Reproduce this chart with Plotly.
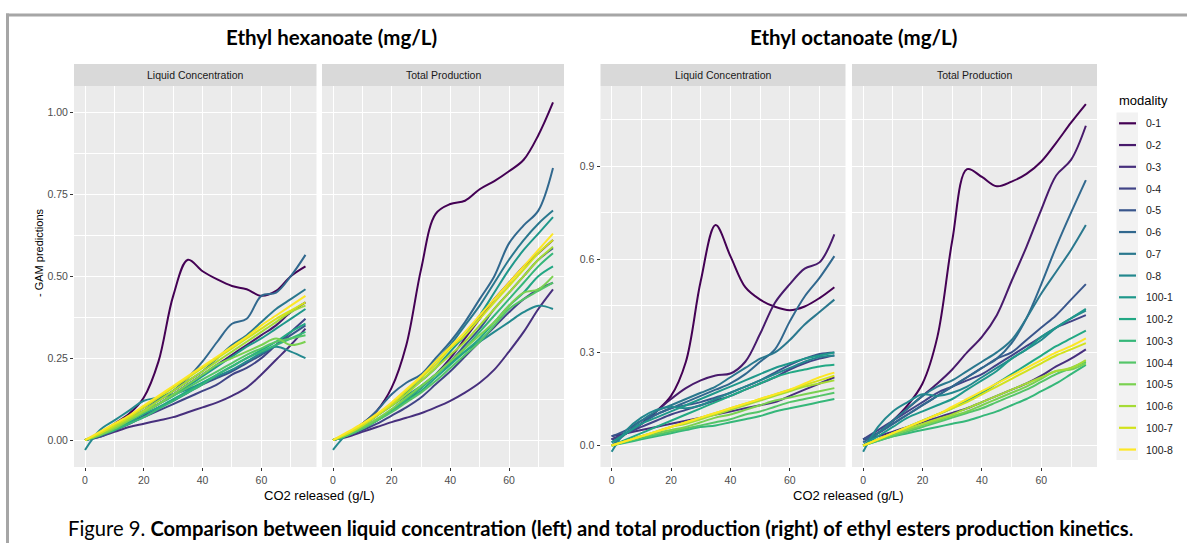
import plotly.graph_objects as go

# ---- data -------------------------------------------------------------
CO2 = [0, 5, 10, 15, 20, 25, 30, 35, 40, 45, 50, 55, 60, 65, 70, 75]

MODALITIES = ["0-1", "0-2", "0-3", "0-4", "0-5", "0-6", "0-7", "0-8",
              "100-1", "100-2", "100-3", "100-4", "100-5", "100-6", "100-7", "100-8"]

COLORS = ["#440154", "#481A6C", "#472F7D", "#414487", "#39568C", "#31688E",
          "#2A788E", "#23888E", "#1F988B", "#22A884", "#35B779", "#54C568",
          "#7AD151", "#A5DB36", "#D2E21B", "#FDE725"]

X_TICKS = [0, 20, 40, 60]
Y_TICKS_HEX = [0.00, 0.25, 0.50, 0.75, 1.00]
Y_LABELS_HEX = ["0.00", "0.25", "0.50", "0.75", "1.00"]
Y_TICKS_OCT = [0.0, 0.3, 0.6, 0.9]
Y_LABELS_OCT = ["0.0", "0.3", "0.6", "0.9"]

# Ethyl hexanoate, liquid concentration (one row per modality)
HEX_LIQUID = [
    [0.00, 0.02, 0.05, 0.08, 0.13, 0.24, 0.44, 0.55, 0.515, 0.49, 0.47, 0.46, 0.44, 0.455, 0.50, 0.53],
    [0.00, 0.015, 0.035, 0.06, 0.085, 0.11, 0.14, 0.17, 0.20, 0.23, 0.26, 0.29, 0.32, 0.35, 0.39, 0.42],
    [0.00, 0.01, 0.025, 0.04, 0.05, 0.06, 0.07, 0.085, 0.10, 0.115, 0.135, 0.16, 0.20, 0.245, 0.29, 0.34],
    [0.00, 0.015, 0.03, 0.05, 0.07, 0.09, 0.11, 0.13, 0.15, 0.17, 0.20, 0.22, 0.25, 0.29, 0.33, 0.37],
    [0.00, 0.01, 0.03, 0.05, 0.075, 0.10, 0.12, 0.145, 0.17, 0.19, 0.21, 0.235, 0.26, 0.29, 0.32, 0.35],
    [0.00, 0.02, 0.04, 0.065, 0.09, 0.12, 0.15, 0.19, 0.24, 0.30, 0.355, 0.37, 0.44, 0.45, 0.50, 0.565],
    [0.00, 0.02, 0.045, 0.07, 0.10, 0.125, 0.15, 0.18, 0.21, 0.25, 0.29, 0.32, 0.36, 0.40, 0.43, 0.46],
    [-0.03, 0.03, 0.06, 0.09, 0.12, 0.13, 0.14, 0.155, 0.175, 0.195, 0.215, 0.24, 0.265, 0.285, 0.27, 0.25],
    [0.00, 0.015, 0.035, 0.06, 0.085, 0.11, 0.135, 0.165, 0.195, 0.225, 0.255, 0.285, 0.31, 0.34, 0.37, 0.40],
    [0.00, 0.015, 0.035, 0.055, 0.08, 0.10, 0.125, 0.15, 0.175, 0.20, 0.225, 0.25, 0.275, 0.30, 0.33, 0.355],
    [0.00, 0.015, 0.03, 0.05, 0.07, 0.095, 0.12, 0.145, 0.17, 0.20, 0.225, 0.25, 0.27, 0.29, 0.31, 0.33],
    [0.00, 0.02, 0.04, 0.06, 0.085, 0.11, 0.135, 0.16, 0.185, 0.21, 0.235, 0.26, 0.28, 0.30, 0.31, 0.32],
    [0.00, 0.015, 0.035, 0.06, 0.085, 0.11, 0.14, 0.17, 0.20, 0.23, 0.25, 0.27, 0.29, 0.31, 0.29, 0.30],
    [0.00, 0.02, 0.04, 0.065, 0.09, 0.12, 0.15, 0.18, 0.21, 0.24, 0.27, 0.30, 0.33, 0.36, 0.39, 0.41],
    [0.00, 0.02, 0.045, 0.07, 0.10, 0.13, 0.16, 0.19, 0.22, 0.25, 0.28, 0.31, 0.34, 0.37, 0.395, 0.42],
    [0.00, 0.025, 0.05, 0.075, 0.105, 0.135, 0.165, 0.195, 0.225, 0.255, 0.285, 0.315, 0.35, 0.38, 0.41, 0.44],
]

# Ethyl hexanoate, total production
HEX_TOTAL = [
    [0.00, 0.02, 0.05, 0.09, 0.16, 0.29, 0.52, 0.69, 0.72, 0.73, 0.765, 0.79, 0.82, 0.855, 0.93, 1.03],
    [0.00, 0.015, 0.035, 0.06, 0.09, 0.12, 0.16, 0.20, 0.25, 0.31, 0.37, 0.43, 0.48, 0.53, 0.57, 0.61],
    [0.00, 0.01, 0.025, 0.04, 0.055, 0.068, 0.082, 0.10, 0.12, 0.145, 0.175, 0.215, 0.27, 0.33, 0.40, 0.46],
    [0.00, 0.015, 0.03, 0.05, 0.075, 0.10, 0.13, 0.17, 0.21, 0.255, 0.30, 0.345, 0.39, 0.43, 0.46, 0.48],
    [0.00, 0.015, 0.035, 0.06, 0.09, 0.12, 0.16, 0.20, 0.24, 0.29, 0.34, 0.40, 0.45, 0.50, 0.55, 0.585],
    [0.00, 0.02, 0.05, 0.09, 0.14, 0.175, 0.20, 0.25, 0.30, 0.36, 0.43, 0.50, 0.60, 0.655, 0.70, 0.83],
    [0.00, 0.02, 0.045, 0.075, 0.11, 0.15, 0.19, 0.24, 0.29, 0.35, 0.41, 0.48, 0.55, 0.61, 0.66, 0.70],
    [-0.03, 0.02, 0.045, 0.075, 0.105, 0.135, 0.165, 0.20, 0.235, 0.27, 0.30, 0.33, 0.36, 0.39, 0.41, 0.40],
    [0.00, 0.02, 0.045, 0.075, 0.11, 0.145, 0.18, 0.22, 0.27, 0.32, 0.38, 0.45, 0.52, 0.58, 0.63, 0.68],
    [0.00, 0.015, 0.035, 0.06, 0.09, 0.12, 0.15, 0.19, 0.23, 0.27, 0.31, 0.36, 0.41, 0.45, 0.50, 0.53],
    [0.00, 0.015, 0.035, 0.06, 0.09, 0.125, 0.16, 0.20, 0.24, 0.28, 0.33, 0.38, 0.43, 0.48, 0.53, 0.57],
    [0.00, 0.015, 0.035, 0.06, 0.085, 0.115, 0.145, 0.18, 0.22, 0.26, 0.30, 0.35, 0.40, 0.43, 0.455, 0.48],
    [0.00, 0.02, 0.04, 0.065, 0.095, 0.13, 0.165, 0.20, 0.24, 0.28, 0.32, 0.36, 0.41, 0.45, 0.46, 0.50],
    [0.00, 0.02, 0.045, 0.075, 0.105, 0.14, 0.18, 0.22, 0.26, 0.30, 0.35, 0.40, 0.45, 0.50, 0.55, 0.59],
    [0.00, 0.02, 0.045, 0.075, 0.11, 0.15, 0.19, 0.23, 0.28, 0.32, 0.37, 0.42, 0.47, 0.52, 0.57, 0.61],
    [0.00, 0.025, 0.05, 0.08, 0.115, 0.155, 0.195, 0.24, 0.285, 0.33, 0.38, 0.43, 0.48, 0.53, 0.58, 0.63],
]

# Ethyl octanoate, liquid concentration
OCT_LIQUID = [
    [0.02, 0.04, 0.07, 0.11, 0.16, 0.27, 0.53, 0.71, 0.61, 0.51, 0.47, 0.447, 0.436, 0.448, 0.475, 0.51],
    [0.02, 0.04, 0.07, 0.11, 0.15, 0.185, 0.21, 0.226, 0.232, 0.27, 0.36, 0.46, 0.52, 0.57, 0.59, 0.68],
    [0.03, 0.04, 0.05, 0.06, 0.07, 0.08, 0.09, 0.10, 0.11, 0.12, 0.13, 0.14, 0.16, 0.18, 0.20, 0.22],
    [0.02, 0.04, 0.06, 0.08, 0.10, 0.115, 0.13, 0.145, 0.16, 0.18, 0.20, 0.22, 0.245, 0.265, 0.28, 0.29],
    [0.03, 0.05, 0.08, 0.10, 0.12, 0.13, 0.14, 0.155, 0.17, 0.19, 0.21, 0.235, 0.26, 0.28, 0.295, 0.30],
    [0.01, 0.04, 0.07, 0.10, 0.12, 0.14, 0.16, 0.18, 0.20, 0.23, 0.27, 0.31, 0.40, 0.48, 0.54, 0.61],
    [0.00, 0.04, 0.08, 0.11, 0.13, 0.15, 0.17, 0.19, 0.22, 0.25, 0.28, 0.30, 0.34, 0.39, 0.43, 0.47],
    [-0.02, 0.05, 0.09, 0.115, 0.125, 0.12, 0.13, 0.15, 0.17, 0.19, 0.21, 0.23, 0.25, 0.27, 0.285, 0.29],
    [0.01, 0.04, 0.07, 0.09, 0.11, 0.13, 0.15, 0.17, 0.19, 0.21, 0.23, 0.25, 0.265, 0.28, 0.29, 0.30],
    [0.00, 0.02, 0.04, 0.06, 0.08, 0.10, 0.12, 0.14, 0.16, 0.18, 0.20, 0.22, 0.235, 0.245, 0.255, 0.26],
    [0.00, 0.01, 0.02, 0.03, 0.04, 0.05, 0.06, 0.065, 0.075, 0.085, 0.095, 0.11, 0.12, 0.13, 0.14, 0.15],
    [0.00, 0.012, 0.025, 0.035, 0.045, 0.055, 0.065, 0.075, 0.085, 0.10, 0.11, 0.125, 0.14, 0.15, 0.16, 0.17],
    [0.00, 0.015, 0.03, 0.04, 0.05, 0.06, 0.075, 0.09, 0.10, 0.115, 0.13, 0.145, 0.155, 0.165, 0.175, 0.185],
    [0.00, 0.015, 0.03, 0.045, 0.06, 0.07, 0.085, 0.10, 0.115, 0.13, 0.145, 0.16, 0.175, 0.19, 0.20, 0.21],
    [0.00, 0.015, 0.03, 0.045, 0.06, 0.075, 0.09, 0.105, 0.12, 0.135, 0.15, 0.165, 0.18, 0.195, 0.21, 0.225],
    [0.00, 0.015, 0.03, 0.045, 0.06, 0.075, 0.09, 0.105, 0.12, 0.135, 0.15, 0.165, 0.18, 0.20, 0.22, 0.235],
]

# Ethyl octanoate, total production
OCT_TOTAL = [
    [0.02, 0.04, 0.08, 0.13, 0.20, 0.35, 0.66, 0.89, 0.865, 0.835, 0.85, 0.875, 0.915, 0.975, 1.04, 1.10],
    [0.02, 0.04, 0.08, 0.12, 0.16, 0.20, 0.245, 0.30, 0.35, 0.42, 0.53, 0.64, 0.76, 0.87, 0.92, 1.03],
    [0.02, 0.03, 0.045, 0.06, 0.075, 0.09, 0.105, 0.12, 0.14, 0.16, 0.18, 0.20, 0.225, 0.255, 0.28, 0.31],
    [0.02, 0.05, 0.08, 0.11, 0.14, 0.17, 0.19, 0.21, 0.23, 0.26, 0.29, 0.32, 0.35, 0.38, 0.40, 0.42],
    [0.02, 0.04, 0.07, 0.10, 0.13, 0.16, 0.19, 0.22, 0.25, 0.28, 0.30, 0.34, 0.38, 0.42, 0.47, 0.52],
    [0.01, 0.04, 0.07, 0.10, 0.13, 0.16, 0.19, 0.22, 0.25, 0.28, 0.33, 0.41, 0.52, 0.64, 0.75, 0.855],
    [0.00, 0.04, 0.08, 0.12, 0.16, 0.19, 0.21, 0.24, 0.27, 0.30, 0.34, 0.41, 0.49, 0.56, 0.63, 0.71],
    [-0.02, 0.06, 0.11, 0.14, 0.165, 0.16, 0.17, 0.19, 0.22, 0.25, 0.28, 0.31, 0.34, 0.38, 0.41, 0.435],
    [0.00, 0.03, 0.06, 0.09, 0.11, 0.13, 0.15, 0.18, 0.21, 0.24, 0.28, 0.31, 0.35, 0.38, 0.41, 0.44],
    [0.00, 0.02, 0.04, 0.06, 0.08, 0.10, 0.12, 0.145, 0.17, 0.20, 0.23, 0.26, 0.29, 0.32, 0.345, 0.37],
    [0.00, 0.015, 0.03, 0.04, 0.05, 0.06, 0.07, 0.08, 0.095, 0.11, 0.13, 0.15, 0.175, 0.20, 0.23, 0.26],
    [0.00, 0.015, 0.03, 0.045, 0.06, 0.075, 0.09, 0.105, 0.12, 0.14, 0.16, 0.18, 0.205, 0.23, 0.25, 0.27],
    [0.00, 0.02, 0.035, 0.05, 0.065, 0.08, 0.095, 0.11, 0.13, 0.15, 0.17, 0.19, 0.215, 0.24, 0.245, 0.265],
    [0.00, 0.02, 0.04, 0.055, 0.07, 0.085, 0.10, 0.12, 0.14, 0.16, 0.18, 0.20, 0.22, 0.24, 0.25, 0.275],
    [0.00, 0.02, 0.04, 0.06, 0.08, 0.10, 0.12, 0.14, 0.165, 0.19, 0.215, 0.24, 0.265, 0.29, 0.31, 0.33],
    [0.00, 0.02, 0.04, 0.06, 0.08, 0.10, 0.125, 0.15, 0.175, 0.20, 0.225, 0.25, 0.275, 0.30, 0.32, 0.345],
]

# ---- layout helpers (pixel -> paper) ----------------------------------
W, H = 1187, 543
def px(x):
    return x / W
def py(y):
    return 1 - y / H

SANS = "Liberation Sans, Arial, sans-serif"
HEAD = "Lato, Open Sans, sans-serif"
PANEL_TOP, PANEL_BOTTOM = 86, 467
STRIP_TOP = 64

# (table, x-axis id, y-axis id, left px, right px, strip label)
PANELS = [
    (HEX_LIQUID, "x", "y", 74, 316.5, "Liquid Concentration"),
    (HEX_TOTAL, "x2", "y2", 322, 564, "Total Production"),
    (OCT_LIQUID, "x3", "y3", 600.5, 845.5, "Liquid Concentration"),
    (OCT_TOTAL, "x4", "y4", 852, 1097, "Total Production"),
]

fig = go.Figure()
for table, xa, ya, _, _, _ in PANELS:
    for name, color, values in zip(MODALITIES, COLORS, table):
        fig.add_trace(go.Scatter(
            x=CO2, y=values, mode="lines", name=name,
            line=dict(color=color, width=2, shape="spline", smoothing=1.0),
            xaxis=xa, yaxis=ya, showlegend=False, hoverinfo="skip",
        ))

def x_axis(left, right, anchor):
    return dict(
        domain=[px(left), px(right)], range=[-3.75, 78.75], anchor=anchor,
        tickvals=X_TICKS, ticktext=[str(v) for v in X_TICKS],
        showgrid=True, gridcolor="white", gridwidth=1.1,
        minor=dict(tickvals=[10, 30, 50, 70], showgrid=True, gridcolor="white", gridwidth=0.55),
        ticks="outside", ticklen=3, tickwidth=1, tickcolor="#333333",
        tickfont=dict(family=SANS, size=10.5, color="#4D4D4D"),
        zeroline=False, showline=False, fixedrange=True,
    )

def y_axis(anchor, rng, ticks, labels, minor, show):
    return dict(
        domain=[py(PANEL_BOTTOM), py(PANEL_TOP)], range=rng, anchor=anchor,
        tickvals=ticks, ticktext=labels,
        showgrid=True, gridcolor="white", gridwidth=1.1,
        minor=dict(tickvals=minor, showgrid=True, gridcolor="white", gridwidth=0.55),
        ticks="outside" if show else "", ticklen=3, tickwidth=1, tickcolor="#333333",
        showticklabels=show,
        tickfont=dict(family=SANS, size=10.5, color="#4D4D4D"),
        zeroline=False, showline=False, fixedrange=True,
    )

HEX_RANGE = [-0.082, 1.080]
OCT_RANGE = [-0.069, 1.158]
HEX_MINOR = [0.125, 0.375, 0.625, 0.875]
OCT_MINOR = [0.15, 0.45, 0.75, 1.05]

fig.update_layout(
    width=W, height=H, margin=dict(l=0, r=0, t=0, b=0),
    paper_bgcolor="white", plot_bgcolor="#EBEBEB", showlegend=False,
    xaxis=x_axis(74, 316.5, "y"),
    xaxis2=x_axis(322, 564, "y2"),
    xaxis3=x_axis(600.5, 845.5, "y3"),
    xaxis4=x_axis(852, 1097, "y4"),
    yaxis=y_axis("x", HEX_RANGE, Y_TICKS_HEX, Y_LABELS_HEX, HEX_MINOR, True),
    yaxis2=y_axis("x2", HEX_RANGE, Y_TICKS_HEX, Y_LABELS_HEX, HEX_MINOR, False),
    yaxis3=y_axis("x3", OCT_RANGE, Y_TICKS_OCT, Y_LABELS_OCT, OCT_MINOR, True),
    yaxis4=y_axis("x4", OCT_RANGE, Y_TICKS_OCT, Y_LABELS_OCT, OCT_MINOR, False),
)

shapes = []
annotations = []

# facet strips
for _, _, _, left, right, label in PANELS:
    shapes.append(dict(type="rect", xref="paper", yref="paper",
                       x0=px(left), x1=px(right), y0=py(PANEL_TOP), y1=py(STRIP_TOP),
                       fillcolor="#D9D9D9", line=dict(width=0), layer="below"))
    annotations.append(dict(xref="paper", yref="paper", x=px((left + right) / 2), y=py(75),
                            text=label, showarrow=False, xanchor="center", yanchor="middle",
                            font=dict(family=SANS, size=10.5, color="#1A1A1A")))

# block titles
annotations.append(dict(xref="paper", yref="paper", x=px(331), y=py(37), text="<b>Ethyl hexanoate (mg/L)</b>",
                        showarrow=False, xanchor="center", yanchor="middle",
                        font=dict(family=HEAD, size=20.5, color="black")))
annotations.append(dict(xref="paper", yref="paper", x=px(853.5), y=py(37), text="<b>Ethyl octanoate (mg/L)</b>",
                        showarrow=False, xanchor="center", yanchor="middle",
                        font=dict(family=HEAD, size=20.5, color="black")))

# axis titles
for cx in (319, 848.8):
    annotations.append(dict(xref="paper", yref="paper", x=px(cx), y=py(495), text="CO2 released (g/L)",
                            showarrow=False, xanchor="center", yanchor="middle",
                            font=dict(family=SANS, size=13, color="black")))
annotations.append(dict(xref="paper", yref="paper", x=px(39), y=py(253), text="- GAM predictions",
                        showarrow=False, textangle=-90, xanchor="center", yanchor="middle",
                        font=dict(family=SANS, size=11, color="black")))

# legend: grey key column, coloured keys, labels
LEG_TOP, LEG_STEP = 123.3, 21.75
shapes.append(dict(type="rect", xref="paper", yref="paper",
                   x0=px(1116.5), x1=px(1138), y0=py(460), y1=py(112.5),
                   fillcolor="#F2F2F2", line=dict(width=0)))
annotations.append(dict(xref="paper", yref="paper", x=px(1117), y=py(101), text="modality",
                        showarrow=False, xanchor="left", yanchor="middle",
                        font=dict(family=SANS, size=13, color="black")))
for i, (name, color) in enumerate(zip(MODALITIES, COLORS)):
    yk = LEG_TOP + i * LEG_STEP
    shapes.append(dict(type="line", xref="paper", yref="paper",
                       x0=px(1119), x1=px(1136), y0=py(yk), y1=py(yk),
                       line=dict(color=color, width=2.2)))
    annotations.append(dict(xref="paper", yref="paper", x=px(1144), y=py(yk), text=name,
                            showarrow=False, xanchor="left", yanchor="middle",
                            font=dict(family=SANS, size=10.5, color="#1A1A1A")))

# caption
annotations.append(dict(xref="paper", yref="paper", x=px(66), y=py(528),
                        text="Figure 9. <b>Comparison between liquid concentration (left) and total production (right) of ethyl esters production kinetics</b>.",
                        showarrow=False, xanchor="left", yanchor="middle",
                        font=dict(family=HEAD, size=20.2, color="black")))

# page frame (top and left rules)
shapes.append(dict(type="line", xref="paper", yref="paper", x0=px(6), x1=1, y0=py(15), y1=py(15),
                   line=dict(color="#A6A6A6", width=3)))
shapes.append(dict(type="line", xref="paper", yref="paper", x0=px(7.5), x1=px(7.5), y0=py(13.5), y1=0,
                   line=dict(color="#A6A6A6", width=3)))

fig.update_layout(shapes=shapes, annotations=annotations)
fig.write_html("out.html")
